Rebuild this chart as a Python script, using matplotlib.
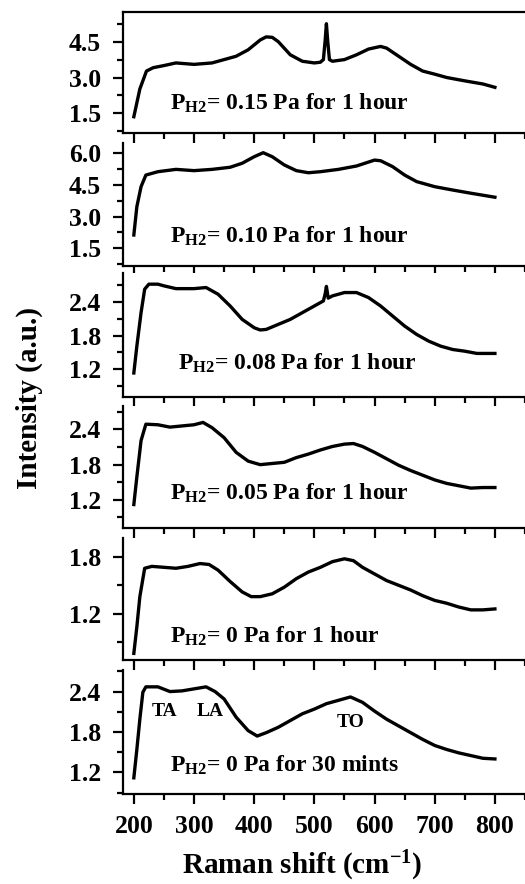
import matplotlib
matplotlib.use('Agg')
import matplotlib.pyplot as plt
from matplotlib.ticker import MultipleLocator

plt.rcParams['font.family'] = 'Liberation Serif'
plt.rcParams['font.weight'] = 'bold'
plt.rcParams['mathtext.fontset'] = 'custom'
plt.rcParams['mathtext.rm'] = 'Liberation Serif:bold'
plt.rcParams['mathtext.bf'] = 'Liberation Serif:bold'
plt.rcParams['mathtext.it'] = 'Liberation Serif:bold'

# Raman spectra (Raman shift in cm-1, intensity a.u.)
w1 = [200, 210, 221, 232, 250, 270, 300, 330, 350, 370, 390, 410, 420, 430, 440, 460, 480, 500,
      510, 515, 518, 520, 522, 525, 530, 550, 570, 590, 610, 620, 640, 660, 680, 700, 720, 750, 780, 800]
i1 = [1.36, 2.52, 3.27, 3.41, 3.50, 3.61, 3.55, 3.61, 3.75, 3.89, 4.16, 4.57, 4.70, 4.68, 4.50, 3.95, 3.68, 3.61,
      3.64, 3.75, 4.57, 5.25, 4.57, 3.75, 3.68, 3.75, 3.95, 4.19, 4.30, 4.23, 3.89, 3.55, 3.27, 3.14, 3.00, 2.86, 2.73, 2.59]

w2 = [200, 205, 212, 220, 240, 270, 300, 330, 360, 380, 400, 415, 430, 450, 470, 490, 510, 540,
      570, 600, 610, 630, 650, 670, 700, 730, 760, 800]
i2 = [2.13, 3.47, 4.42, 4.97, 5.13, 5.24, 5.18, 5.24, 5.34, 5.53, 5.84, 6.03, 5.84, 5.45, 5.18, 5.08, 5.13, 5.24,
      5.40, 5.68, 5.65, 5.37, 4.97, 4.66, 4.42, 4.26, 4.11, 3.92]

w3 = [200, 205, 212, 218, 225, 240, 250, 270, 300, 320, 340, 360, 380, 400, 410, 420, 440, 460, 480,
      500, 515, 518, 520, 523, 530, 550, 570, 590, 610, 630, 650, 670, 690, 710, 730, 750, 770, 800]
i3 = [1.13, 1.61, 2.21, 2.63, 2.72, 2.72, 2.69, 2.64, 2.64, 2.66, 2.54, 2.33, 2.09, 1.94, 1.90, 1.91, 2.00, 2.09, 2.21,
      2.33, 2.42, 2.55, 2.68, 2.47, 2.51, 2.57, 2.57, 2.48, 2.33, 2.15, 1.97, 1.82, 1.70, 1.61, 1.55, 1.52, 1.48, 1.48]

w4 = [200, 205, 212, 220, 240, 260, 280, 300, 315, 330, 350, 370, 390, 410, 430, 450, 470, 490, 510,
      530, 550, 565, 580, 600, 620, 640, 660, 680, 700, 720, 740, 760, 780, 800]
i4 = [1.12, 1.59, 2.21, 2.49, 2.48, 2.44, 2.46, 2.48, 2.52, 2.43, 2.26, 2.01, 1.86, 1.80, 1.82, 1.84, 1.92, 1.98, 2.05,
      2.11, 2.15, 2.16, 2.11, 2.01, 1.90, 1.79, 1.70, 1.62, 1.54, 1.48, 1.44, 1.40, 1.41, 1.41]

w5 = [200, 205, 210, 218, 230, 250, 270, 290, 310, 325, 340, 360, 380, 395, 410, 430, 450, 470, 490,
      510, 530, 550, 565, 580, 600, 620, 640, 660, 680, 700, 720, 740, 760, 780, 800]
i5 = [0.78, 1.06, 1.38, 1.68, 1.70, 1.69, 1.68, 1.70, 1.73, 1.72, 1.66, 1.54, 1.43, 1.38, 1.38, 1.41, 1.48, 1.57, 1.64,
      1.69, 1.75, 1.78, 1.76, 1.69, 1.62, 1.55, 1.50, 1.45, 1.39, 1.34, 1.31, 1.27, 1.24, 1.24, 1.25]

w6 = [200, 205, 210, 215, 220, 240, 260, 280, 300, 320, 335, 350, 370, 390, 405, 420, 440, 460, 480,
      500, 520, 540, 560, 580, 600, 620, 640, 660, 680, 700, 720, 740, 760, 780, 800]
i6 = [1.12, 1.54, 1.99, 2.39, 2.47, 2.47, 2.40, 2.41, 2.44, 2.47, 2.40, 2.29, 2.02, 1.82, 1.74, 1.79, 1.87, 1.97, 2.07,
      2.14, 2.22, 2.27, 2.32, 2.24, 2.11, 1.99, 1.89, 1.79, 1.69, 1.60, 1.54, 1.49, 1.45, 1.41, 1.40]

labels = ['0.15 Pa for 1 hour', '0.10 Pa for 1 hour', '0.08 Pa for 1 hour',
          '0.05 Pa for 1 hour', '0 Pa for 1 hour', '0 Pa for 30 mints']
peak_names = ['TA', 'LA', 'TO']
peak_pos = [(230, 2.03), (305, 2.03), (537, 1.88)]

W, H = 525, 884
fig = plt.figure(figsize=(W / 100, H / 100), dpi=100)

# panel extents in pixels (top, bottom), y limits, major tick step
panels = [
    (12, 133, (0.68, 5.74), 1.5),
    (143, 266, (0.66, 6.49), 1.5),
    (273, 397, (0.70, 2.92), 0.6),
    (406, 528, (0.72, 2.80), 0.6),
    (538, 660, (0.71, 2.00), 0.6),
    (670, 794, (0.88, 2.72), 0.6),
]
data = [(w1, i1), (w2, i2), (w3, i3), (w4, i4), (w5, i5), (w6, i6)]
text_x = [260, 260, 273, 260, 260, 260]
text_y = [0.19, 0.187, 0.218, 0.23, 0.14, 0.177]

left, right = 123 / W, 1.0
for k, ((top, bot, ylim, step), (w, inten)) in enumerate(zip(panels, data)):
    ax = fig.add_axes([left, 1 - bot / H, right - left, (bot - top) / H])
    ax.plot(w, inten, color='black', lw=2.4)
    ax.set_xlim(182, 850)
    ax.set_ylim(*ylim)
    ax.xaxis.set_major_locator(MultipleLocator(100))
    ax.xaxis.set_minor_locator(MultipleLocator(50))
    ax.yaxis.set_major_locator(MultipleLocator(step))
    ax.yaxis.set_minor_locator(MultipleLocator(step / 2))
    ax.yaxis.set_major_formatter(plt.FormatStrFormatter('%.1f'))
    ax.spines['right'].set_visible(False)
    if k > 0:
        ax.spines['top'].set_visible(False)
    for s in ax.spines.values():
        s.set_linewidth(1.6)
    ax.tick_params(which='major', direction='out', length=7, width=1.6, labelsize=18.5, pad=9)
    ax.tick_params(which='minor', direction='out', length=4.5, width=1.6)
    ax.tick_params(axis='x', pad=8)
    ax.tick_params(top=False, right=False, which='both')
    if k < 5:
        ax.tick_params(axis='x', labelbottom=False)
    ax.text(text_x[k], text_y[k], r'P$_{\mathbf{H2}}$= ' + labels[k],
            transform=ax.get_xaxis_transform(), fontsize=17, fontweight='bold', va='baseline')
    if k == 5:
        for name, (px, py) in zip(peak_names, peak_pos):
            ax.text(px, py, name, fontsize=14, fontweight='bold', va='baseline')

fig.text(302 / W, 1 - 866 / H, r'Raman shift (cm$^{\mathbf{-1}}$)', fontsize=21,
         fontweight='bold', ha='center', va='center')
fig.text(29 / W, 1 - 398 / H, 'Intensity (a.u.)', fontsize=21, fontweight='bold',
         rotation=90, ha='center', va='center')

fig.savefig('out.png', dpi=100)
